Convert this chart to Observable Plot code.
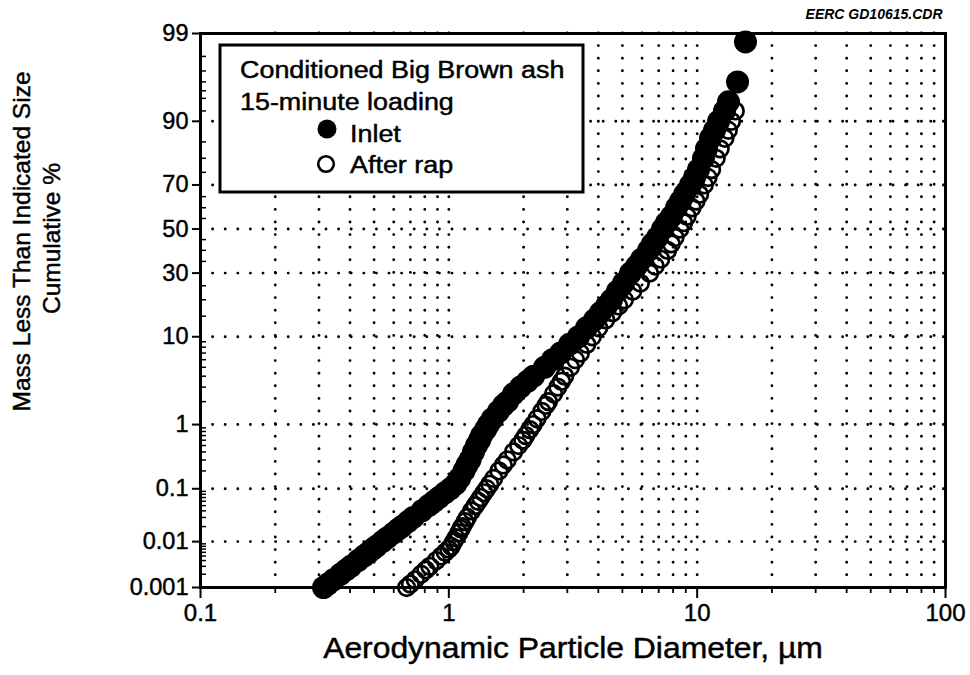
<!DOCTYPE html>
<html><head><meta charset="utf-8">
<script src="https://cdn.jsdelivr.net/npm/d3@7"></script>
<script src="https://cdn.jsdelivr.net/npm/@observablehq/plot@0.6"></script>
<style>
html,body{margin:0;padding:0;background:#fff;}
#chart{position:relative;width:970px;height:675px;}
</style></head><body><div id="chart"></div>
<script>
// ---------- data ----------
const seriesNames = ["Inlet", "After rap"];
const legendTitle = ["Conditioned Big Brown ash", "15-minute loading"];
const xTitle = "Aerodynamic Particle Diameter, \u00b5m";
const yTitle1 = "Mass Less Than Indicated Size";
const yTitle2 = "Cumulative %";
const sourceNote = "EERC GD10615.CDR";

// Inlet: diameter (um) and cumulative mass %
const inletPct = [0.001,0.0012,0.0015,0.002,0.0025,0.003,0.004,0.005,0.006,0.007,0.008,0.01,0.012,0.015,0.018,0.02,0.025,0.03,0.04,0.05,0.06,0.07,0.085,0.1,0.12,0.15,0.2,0.25,0.3,0.4,0.5,0.6,0.7,0.85,1,1.2,1.5,1.8,2,2.5,3,3.5,4,5,6,7,8.5,10,12,14,16,18,20,23,26,30,33,36,40,43,46,50,53,56,60,63,66,70,73,76,80,83,86,88,90,92,93.5,96,98.7];
const inletDiam = [0.313,0.326,0.343,0.366,0.386,0.403,0.431,0.455,0.476,0.494,0.511,0.540,0.566,0.600,0.628,0.647,0.685,0.719,0.779,0.829,0.873,0.913,0.965,1.014,1.064,1.104,1.151,1.184,1.217,1.257,1.292,1.329,1.354,1.405,1.444,1.499,1.585,1.660,1.723,1.822,1.944,2.074,2.193,2.428,2.615,2.817,3.062,3.328,3.584,3.860,4.082,4.314,4.520,4.777,5.051,5.390,5.698,5.969,6.369,6.609,6.923,7.252,7.526,7.883,8.257,8.569,8.895,9.401,9.757,10.12,10.60,10.90,11.32,11.74,12.19,12.89,13.37,14.54,15.65];

// After rap
const afterPct = [0.001,0.0012,0.0015,0.002,0.0025,0.003,0.004,0.005,0.006,0.007,0.008,0.01,0.012,0.015,0.018,0.02,0.025,0.03,0.04,0.05,0.06,0.07,0.085,0.1,0.12,0.15,0.2,0.25,0.3,0.4,0.5,0.6,0.7,0.85,1,1.2,1.5,1.8,2,2.5,3,3.5,4,5,6,7,8.5,10,12,14,16,18,20,23,26,30,33,36,40,43,46,50,53,56,60,63,66,70,73,76,80,83,86,88,90,92];
const afterDiam = [0.676,0.700,0.732,0.773,0.808,0.838,0.890,0.932,0.967,0.999,1.022,1.047,1.069,1.097,1.118,1.133,1.163,1.188,1.236,1.277,1.313,1.344,1.384,1.421,1.462,1.516,1.591,1.657,1.718,1.822,1.910,1.986,2.041,2.119,2.186,2.265,2.370,2.462,2.518,2.642,2.747,2.842,2.928,3.087,3.236,3.387,3.594,3.785,4.018,4.287,4.566,4.831,5.093,5.501,5.907,6.434,6.776,7.132,7.603,7.868,8.145,8.514,8.820,9.112,9.541,9.892,10.23,10.68,11.06,11.43,11.93,12.38,12.93,13.35,13.75,14.24];

// axes
const xMajor = [0.1, 1, 10, 100];
const xTickLabels = ["0.1", "1", "10", "100"];
const xMinor = [0.2,0.3,0.4,0.5,0.6,0.7,0.8,0.9,2,3,4,5,6,7,8,9,20,30,40,50,60,70,80,90];
const xGrid = [0.2,0.3,0.4,0.5,0.6,0.7,0.8,0.9,1,2,3,4,5,6,7,8,9,10,20,30,40,50,60,70,80,90];
const yTickPct = [0.001, 0.01, 0.1, 1, 10, 30, 50, 70, 90, 99];
const yTickLabels = ["0.001", "0.01", "0.1", "1", "10", "30", "50", "70", "90", "99"];
const yGridPct = [0.01, 0.1, 1, 10, 30, 50, 70, 90];
const yMinorPct = [0.002,0.003,0.004,0.005,0.006,0.007,0.008,0.009,0.02,0.03,0.04,0.05,0.06,0.07,0.08,0.09,0.2,0.3,0.4,0.5,0.6,0.7,0.8,0.9,2,3,4,5,6,7,8,9,15,20,25,35,40,45,55,60,65,75,80,85,92,94,95,96,97,98];

// ---------- probability (normal quantile) transform ----------
function probit(p) {
  const a = [-3.969683028665376e+01, 2.209460984245205e+02, -2.759285104469687e+02, 1.383577518672690e+02, -3.066479806614716e+01, 2.506628277459239e+00];
  const b = [-5.447609879822406e+01, 1.615858368580409e+02, -1.556989798598866e+02, 6.680131188771972e+01, -1.328068155288572e+01];
  const c = [-7.784894002430293e-03, -3.223964580411365e-01, -2.400758277161838e+00, -2.549732539343734e+00, 4.374664141464968e+00, 2.938163982698783e+00];
  const d = [7.784695709041462e-03, 3.224671290700398e-01, 2.445134137142996e+00, 3.754408661907416e+00];
  const pl = 0.02425, ph = 1 - pl;
  let q, r;
  if (p < pl) {
    q = Math.sqrt(-2 * Math.log(p));
    return (((((c[0]*q+c[1])*q+c[2])*q+c[3])*q+c[4])*q+c[5]) / ((((d[0]*q+d[1])*q+d[2])*q+d[3])*q+1);
  }
  if (p <= ph) {
    q = p - 0.5; r = q * q;
    return (((((a[0]*r+a[1])*r+a[2])*r+a[3])*r+a[4])*r+a[5])*q / (((((b[0]*r+b[1])*r+b[2])*r+b[3])*r+b[4])*r+1);
  }
  q = Math.sqrt(-2 * Math.log(1 - p));
  return -(((((c[0]*q+c[1])*q+c[2])*q+c[3])*q+c[4])*q+c[5]) / ((((d[0]*q+d[1])*q+d[2])*q+d[3])*q+1);
}
const pz = p => probit(p / 100);

const inlet = inletDiam.map((d, i) => ({d, p: inletPct[i]}));
const afterRap = afterDiam.map((d, i) => ({d, p: afterPct[i]}));

const FONT = "'Liberation Sans', Arial, Helvetica, sans-serif";
const dotted = {stroke: "black", strokeWidth: 2.9, strokeDasharray: "0,12.6", strokeLinecap: "round"};

const svg = Plot.plot({
  width: 970, height: 675,
  marginLeft: 200, marginRight: 25, marginTop: 33, marginBottom: 88,
  style: {fontFamily: FONT, background: "white", color: "black", overflow: "visible"},
  x: {type: "log", domain: [0.1, 100], label: null},
  y: {type: "linear", domain: [pz(0.001), pz(99)], label: null},
  marks: [
    Plot.ruleX(xGrid, dotted),
    Plot.ruleY(yGridPct, {y: pz, ...dotted}),
    Plot.dot(afterRap, {x: "d", y: r => pz(r.p), r: 8.3, stroke: "black", strokeWidth: 2.7, fill: "none"}),
    Plot.dot(inlet, {x: "d", y: r => pz(r.p), r: 11.5, fill: "black", stroke: "none"}),
    Plot.tickY(yMinorPct, {y: pz, insetRight: 739, stroke: "black", strokeWidth: 1.5}),
    Plot.axisY(yTickPct.map(pz), {
      tickSize: 8, tickPadding: 4, fontSize: 23.5, strokeWidth: 2, label: null, className: "heavy",
      tickFormat: z => { const i = yTickPct.findIndex(p => Math.abs(pz(p) - z) < 1e-6); return i >= 0 ? yTickLabels[i] : ""; }
    }),
    Plot.axisX(xMajor, {tickSize: 11, tickPadding: 5, fontSize: 24, strokeWidth: 2, label: null, className: "heavy",
      tickFormat: v => xTickLabels[xMajor.indexOf(v)]}),
    Plot.axisX(xMinor, {tickSize: 6, strokeWidth: 1.8, label: null, tickFormat: () => ""}),
    Plot.frame({stroke: "black", strokeWidth: 3}),
    Plot.text([xTitle], {frameAnchor: "bottom", dy: 70, fontSize: 29.5, text: d => d, className: "stretch heavy"}),
    Plot.text([yTitle1], {frameAnchor: "left", dx: -178, dy: -69, rotate: -90, textAnchor: "middle", fontSize: 24.5, text: d => d, className: "heavy"}),
    Plot.text([yTitle2], {frameAnchor: "left", dx: -148, dy: -72, rotate: -90, textAnchor: "middle", fontSize: 24.5, text: d => d, className: "heavy"}),
    Plot.text([sourceNote], {frameAnchor: "top-right", dx: -3, dy: -24, textAnchor: "end", fontSize: 14, fontWeight: "bold", fontStyle: "italic", text: d => d})
  ]
});

// widen the title horizontally like the reference artwork
svg.querySelectorAll(".stretch text").forEach(t => {
  const tr = t.getAttribute("transform") || "";
  t.setAttribute("transform", tr + " scale(1.08,1)");
});
// slightly heavier lettering, like the scanned original
svg.querySelectorAll(".heavy text").forEach(t => {
  t.setAttribute("stroke", "black");
  t.setAttribute("stroke-width", "0.45");
});

// legend box (inside plot area)
const LEG_STRETCH = 1.17;
const g = d3.select(svg).append("g").attr("font-family", FONT).attr("font-size", 23)
  .attr("fill", "black").attr("text-anchor", "start");
g.append("rect").attr("x", 220).attr("y", 45).attr("width", 363).attr("height", 147)
  .attr("fill", "white").attr("stroke", "black").attr("stroke-width", 3);
[[legendTitle[0], 240, 78], [legendTitle[1], 240, 110], [seriesNames[0], 350, 142], [seriesNames[1], 350, 173]]
  .forEach(([s, x, y]) => g.append("text")
    .attr("transform", `translate(${x},${y}) scale(${LEG_STRETCH},1)`)
    .attr("stroke", "black").attr("stroke-width", 0.45).text(s));
g.append("circle").attr("cx", 327).attr("cy", 129).attr("r", 9.5).attr("fill", "black");
g.append("circle").attr("cx", 326).attr("cy", 164).attr("r", 7.8).attr("fill", "none").attr("stroke", "black").attr("stroke-width", 2.6);

document.getElementById("chart").appendChild(svg);
</script></body></html>
